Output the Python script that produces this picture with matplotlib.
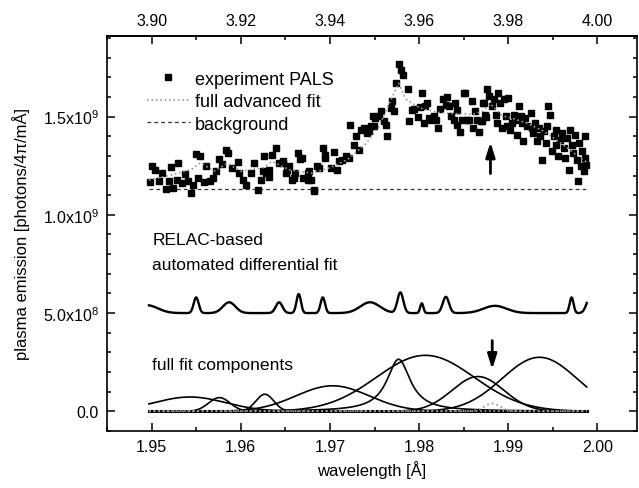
import numpy as np
import matplotlib
matplotlib.use('Agg')
import matplotlib.pyplot as plt
from matplotlib.ticker import MultipleLocator, FixedLocator, FuncFormatter

plt.rcParams['font.family'] = ['Liberation Sans', 'DejaVu Sans']
plt.rcParams['mathtext.default'] = 'regular'
plt.rcParams['font.size'] = 11

# experiment PALS (wavelength [A], intensity in units of 1e9)
exp_x = [1.9498, 1.9501, 1.9504, 1.9508, 1.9512, 1.9516, 1.9520, 1.9522, 1.9524, 1.9528,
         1.9530, 1.9534, 1.9537, 1.9541, 1.9544, 1.9546, 1.9550, 1.9554, 1.9552, 1.9559,
         1.9561, 1.9565, 1.9569, 1.9572, 1.9576, 1.9579, 1.9583, 1.9586, 1.9590, 1.9597,
         1.9598, 1.9603, 1.9606, 1.9612, 1.9615, 1.9619, 1.9623, 1.9626, 1.9628, 1.9632,
         1.9635, 1.9639, 1.9643, 1.9647, 1.9651, 1.9654, 1.9658, 1.9661, 1.9664, 1.9667,
         1.9670, 1.9675, 1.9679, 1.9682, 1.9686, 1.9625, 1.9632, 1.9647, 1.9652, 1.9660,
         1.9669, 1.9675, 1.9677, 1.9682, 1.9688,
         1.9692, 1.9694, 1.9695, 1.9701, 1.9705, 1.9708, 1.9710, 1.9714, 1.9718, 1.9721,
         1.9723, 1.9727, 1.9729, 1.9733, 1.9735, 1.9738, 1.9742, 1.9746, 1.9748,
         1.9744, 1.9749, 1.9751, 1.9755, 1.9757, 1.9761, 1.9763, 1.9764, 1.9768, 1.9772,
         1.9770, 1.9774, 1.9778, 1.9780, 1.9782, 1.9787, 1.9789, 1.9792, 1.9794, 1.9799,
         1.9801, 1.9803, 1.9805, 1.9807, 1.9809, 1.9811, 1.9813, 1.9817, 1.9819, 1.9821,
         1.9823, 1.9827, 1.9830, 1.9831, 1.9834, 1.9836, 1.9839, 1.9840, 1.9843, 1.9842,
         1.9846, 1.9848, 1.9850, 1.9852, 1.9854, 1.9856, 1.9859, 1.9861, 1.9863, 1.9865,
         1.9867, 1.9869, 1.9872, 1.9875, 1.9876,
         1.9871, 1.9874, 1.9873, 1.9878, 1.9882, 1.9884, 1.9886, 1.9887, 1.9889, 1.9891,
         1.9893, 1.9895, 1.9897, 1.9899, 1.9900, 1.9902, 1.9904, 1.9906, 1.9908, 1.9910,
         1.9912, 1.9914, 1.9915, 1.9917, 1.9919, 1.9921, 1.9925, 1.9927, 1.9928, 1.9930,
         1.9932, 1.9934, 1.9936, 1.9938, 1.9940, 1.9942, 1.9943, 1.9945, 1.9947, 1.9949,
         1.9951, 1.9953, 1.9954, 1.9956, 1.9958, 1.9960, 1.9962, 1.9964, 1.9966, 1.9968,
         1.9969, 1.9971, 1.9973, 1.9975, 1.9977, 1.9978, 1.9979, 1.9981, 1.9983, 1.9985,
         1.9986, 1.9986, 1.9987]
exp_y = [1.165, 1.246, 1.226, 1.170, 1.213, 1.131, 1.170, 1.241, 1.136, 1.179,
         1.264, 1.162, 1.209, 1.170, 1.111, 1.153, 1.311, 1.297, 1.187, 1.165,
         1.246, 1.170, 1.187, 1.221, 1.284, 1.260, 1.332, 1.315, 1.238, 1.267,
         1.213, 1.179, 1.153, 1.213, 1.264, 1.128, 1.179, 1.297, 1.213, 1.230,
         1.306, 1.340, 1.264, 1.264, 1.213, 1.246, 1.179, 1.213, 1.315, 1.284,
         1.187, 1.213, 1.179, 1.119, 1.246, 1.221, 1.195, 1.272, 1.230, 1.187,
         1.289, 1.179, 1.221, 1.128, 1.238,
         1.340, 1.306, 1.289, 1.238, 1.318, 1.230, 1.272, 1.281, 1.297, 1.289,
         1.459, 1.357, 1.399, 1.332, 1.434, 1.442, 1.417, 1.451, 1.502,
         1.425, 1.451, 1.493, 1.502, 1.527, 1.476, 1.459, 1.399, 1.544, 1.527,
         1.578, 1.672, 1.769, 1.735, 1.711, 1.638, 1.476, 1.536, 1.541, 1.496,
         1.547, 1.621, 1.468, 1.553, 1.570, 1.493, 1.485, 1.502, 1.485, 1.442,
         1.541, 1.587, 1.561, 1.598, 1.553, 1.502, 1.485, 1.570, 1.536, 1.459,
         1.422, 1.485, 1.621, 1.621, 1.485, 1.485, 1.578, 1.442, 1.527, 1.485,
         1.422, 1.476, 1.570, 1.496, 1.638,
         1.476, 1.510, 1.570, 1.604, 1.553, 1.587, 1.510, 1.468, 1.621, 1.570,
         1.442, 1.587, 1.502, 1.451, 1.595, 1.434, 1.468, 1.510, 1.485, 1.408,
         1.553, 1.502, 1.468, 1.374, 1.493, 1.451, 1.519, 1.442, 1.417, 1.468,
         1.374, 1.442, 1.399, 1.281, 1.425, 1.366, 1.451, 1.553, 1.510, 1.323,
         1.399, 1.434, 1.357, 1.297, 1.383, 1.417, 1.340, 1.289, 1.391, 1.230,
         1.434, 1.357, 1.315, 1.408, 1.281, 1.170, 1.366, 1.246, 1.323, 1.221,
         1.399, 1.289, 1.255]

# full advanced fit (units of 1e9)
fit_x = [1.9497, 1.9520, 1.9545, 1.9555, 1.9570, 1.9585, 1.9600, 1.9625, 1.9635, 1.9655,
         1.9680, 1.9700, 1.9720, 1.9740, 1.9755, 1.9768, 1.9777, 1.9785, 1.9800, 1.9820,
         1.9840, 1.9860, 1.9872, 1.9880, 1.9893, 1.9905, 1.9920, 1.9940, 1.9960, 1.9980,
         1.9988]
fit_y = [1.178, 1.200, 1.232, 1.265, 1.222, 1.262, 1.222, 1.240, 1.272, 1.228,
         1.212, 1.240, 1.282, 1.360, 1.450, 1.580, 1.670, 1.590, 1.545, 1.522,
         1.515, 1.512, 1.528, 1.565, 1.505, 1.490, 1.468, 1.425, 1.362, 1.292,
         1.268]

background_level = 1.133e9
x_start, x_end = 1.9497, 1.9988

# RELAC-based differential fit: baseline + lines (center, height, sigma)
relac_base = 5.0e8
relac_center = [1.9495, 1.9550, 1.9587, 1.9643, 1.9665, 1.9692, 1.9745, 1.9779,
                1.9803, 1.9830, 1.9885, 1.9971, 1.9992]
relac_height = [0.40e8, 0.80e8, 0.55e8, 0.55e8, 0.97e8, 0.80e8, 0.55e8, 1.05e8,
                0.50e8, 0.83e8, 0.37e8, 0.80e8, 0.85e8]
relac_sigma = [0.0012, 0.00028, 0.0007, 0.00037, 0.00025, 0.00025, 0.0011, 0.00033,
               0.00018, 0.00035, 0.0013, 0.00022, 0.0004]

# full fit components (center, height, width)
comp_center = [1.9543, 1.9576, 1.9627, 1.9703, 1.9777, 1.9807, 1.9866, 1.9935]
comp_height = [0.73e8, 0.70e8, 0.87e8, 1.30e8, 2.65e8, 2.85e8, 1.77e8, 2.75e8]
comp_width = [0.0040, 0.0012, 0.0010, 0.0041, 0.0016, 0.0055, 0.0029, 0.0042]
comp_shape = ['g', 'g', 'g', 'g', 'l', 'g', 'g', 'g']
weak_center, weak_height, weak_width = 1.9882, 0.40e8, 0.0009

xs = np.linspace(x_start, x_end, 800)


def profile(x, c, h, w, shape='g'):
    if shape == 'l':
        return h / (1 + ((x - c) / w) ** 2)
    return h * np.exp(-0.5 * ((x - c) / w) ** 2)


fig = plt.figure(figsize=(6.39, 4.89), dpi=100)
ax = fig.add_axes([0.1674, 0.1166, 0.8290, 0.8077])

ax.plot(np.array(exp_x), np.array(exp_y) * 1e9, 's', ms=4.5, color='k', mec='k',
        label='experiment PALS', zorder=3)
ax.plot(np.array(fit_x), np.array(fit_y) * 1e9, ':', color='#999999', lw=1.2,
        label='full advanced fit', zorder=4)
ax.plot([x_start, x_end], [background_level, background_level], color='#333333',
        lw=0.9, dashes=(3, 2.5), label='background')

relac = np.full_like(xs, relac_base)
for c, h, s in zip(relac_center, relac_height, relac_sigma):
    relac += profile(xs, c, h, s)
ax.plot(xs, relac, color='k', lw=1.7)

for c, h, w, sh in zip(comp_center, comp_height, comp_width, comp_shape):
    ax.plot(xs, profile(xs, c, h, w, sh), color='k', lw=1.2)
ax.plot([x_start, x_end], [0, 0], color='k', lw=2.2)
ax.plot([x_start, x_end], [0, 0], ':', color='#aaaaaa', lw=1.2)
ax.plot(xs, profile(xs, weak_center, weak_height, weak_width), ':', color='#999999', lw=1.3)

arrow = dict(arrowstyle='-|>,head_length=0.8,head_width=0.25', color='k', lw=2,
             shrinkA=0, shrinkB=0)
ax.annotate('', xy=(1.9880, 1.37e9), xytext=(1.9880, 1.21e9), arrowprops=arrow)
ax.annotate('', xy=(1.9882, 2.14e8), xytext=(1.9882, 3.6e8), arrowprops=arrow)

ax.text(1.9501, 8.72e8, 'RELAC-based', fontsize=12.5, va='center', ha='left')
ax.text(1.9501, 7.45e8, 'automated differential fit', fontsize=12.5, va='center', ha='left')
ax.text(1.9501, 2.4e8, 'full fit components', fontsize=12.6, va='center', ha='left')

ax.set_xlim(1.945, 2.0044)
ax.set_ylim(-1.0e8, 1.91e9)

ax.xaxis.set_major_locator(MultipleLocator(0.01))
ax.xaxis.set_minor_locator(MultipleLocator(0.005))
ax.xaxis.set_major_formatter(FuncFormatter(lambda v, p: '%.2f' % v))
ax.yaxis.set_major_locator(FixedLocator([0, 5e8, 1e9, 1.5e9]))
ax.yaxis.set_minor_locator(MultipleLocator(1e8))


def yfmt(v, p):
    if v == 0:
        return '0.0'
    e = int(np.floor(np.log10(v)))
    return r'%.1fx10$^{%d}$' % (v / 10 ** e, e)


ax.yaxis.set_major_formatter(FuncFormatter(yfmt))
ax.tick_params(which='both', direction='in', right=True, width=1.1)
ax.tick_params(which='major', length=6, pad=6, labelsize=11.5)
ax.tick_params(which='minor', length=3)
for sp in ax.spines.values():
    sp.set_linewidth(1.2)

top = ax.secondary_xaxis('top', functions=(lambda x: 2 * x, lambda x: x / 2))
top.xaxis.set_major_locator(FixedLocator([3.90, 3.92, 3.94, 3.96, 3.98, 4.00]))
top.xaxis.set_minor_locator(FixedLocator([3.89, 3.91, 3.93, 3.95, 3.97, 3.99]))
top.xaxis.set_major_formatter(FuncFormatter(lambda v, p: '%.2f' % v))
top.tick_params(which='both', direction='in', width=1.1)
top.tick_params(which='major', length=6, pad=6, labelsize=11.5)
top.tick_params(which='minor', length=3)
top.spines['top'].set_linewidth(1.2)

ax.set_xlabel('wavelength [Å]', fontsize=12, labelpad=4)
ax.set_ylabel('plasma emission [photons/4π/mÅ]', fontsize=12, labelpad=9)

ax.legend(loc='upper left', bbox_to_anchor=(0.075, 0.912), frameon=False, numpoints=1,
          fontsize=13, handlelength=2.4, handletextpad=0.25, labelspacing=0.3,
          borderpad=0, borderaxespad=0)

fig.savefig('out.png', dpi=100)
